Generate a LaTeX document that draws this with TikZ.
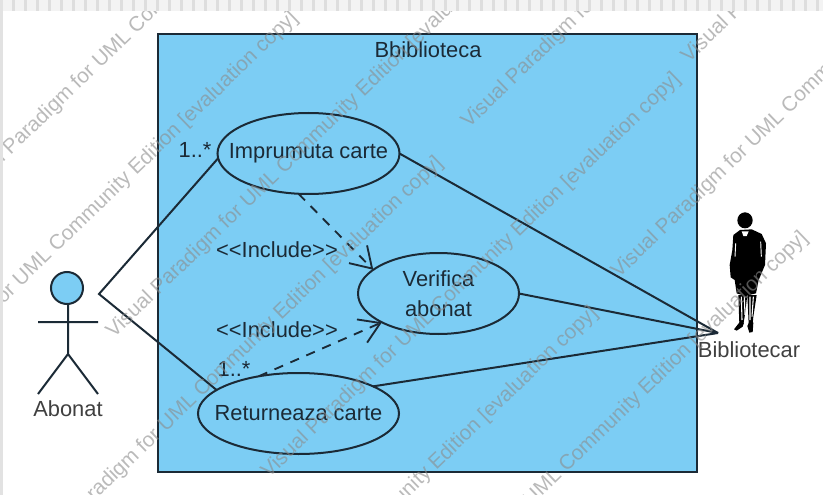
\documentclass[tikz,border=0pt]{standalone}
\usepackage{fontspec}
\setmainfont{Liberation Sans}
\usetikzlibrary{shapes.geometric,arrows.meta}
\definecolor{sysblue}{HTML}{7CCDF4}
\definecolor{inkc}{HTML}{1B2A36}
\definecolor{barc}{HTML}{F3F3F3}
\definecolor{tickc}{HTML}{DEDEDE}
\definecolor{stripc}{HTML}{E2E2E2}
\definecolor{wmc}{HTML}{8C8C8C}
\tikzset{
  usecase/.style={draw=inkc,line width=1.5pt,ellipse,inner sep=0pt,outer sep=0pt},
  ucname/.style={align=center,text=inkc,inner sep=0pt,font=\fontsize{16.4}{22.5}\selectfont},
  assoc/.style={draw=inkc,line width=1.5pt},
  incl/.style={draw=inkc,line width=1.4pt,dash pattern=on 7pt off 6pt,-{Straight Barb[length=15pt,width=19pt,line width=1.4pt]}},
  lbl/.style={text=inkc,inner sep=0pt,font=\fontsize{16.4}{20}\selectfont},
  wm/.style={text=wmc,opacity=.6,inner sep=0pt,rotate=44,font=\fontsize{15.6}{18}\selectfont}
}
\newcommand{\wmstr}{Visual Paradigm for UML Community Edition [evaluation copy]}
\begin{document}
\begin{tikzpicture}[x=.75pt,y=-.75pt]
\useasboundingbox (0,0) rectangle (823,495);
\clip (0,0) rectangle (823,495);
\fill[white] (0,0) rectangle (823,495);
% system frame
\node[draw=inkc,fill=sysblue,line width=1.5pt,minimum width=404.25pt,minimum height=328.5pt,inner sep=0pt,outer sep=0pt] (sys) at (427.5,253) {};
\node[lbl] (systitle) at (428,50) {Bbiblioteca};
% use cases
\node[usecase,minimum width=136.5pt,minimum height=60.75pt] (imp) at (308.5,153.5) {};
\node[usecase,minimum width=120.75pt,minimum height=60.75pt] (ver) at (438.5,293.5) {};
\node[usecase,minimum width=150.75pt,minimum height=60.75pt] (ret) at (298.5,413.5) {};
\node[ucname] (impt) at (imp.center) {Imprumuta carte};
\node[ucname] (vert) at (ver.center) {Verifica\\abonat};
\node[ucname] (rett) at (ret.center) {Returneaza carte};
% actor Abonat
\node[circle,draw=inkc,fill=sysblue,line width=1.5pt,minimum size=24pt,inner sep=0pt,outer sep=0pt] (head) at (67,288) {};
\coordinate (neck) at (68,304);
\coordinate (hip) at (68,354);
\coordinate (armL) at (38,322);
\coordinate (armR) at (98,322);
\coordinate (footL) at (38,394);
\coordinate (footR) at (98,394);
\draw[assoc] (neck) -- (hip) (armL) -- (armR) (footL) -- (hip) -- (footR);
\node[text=black!75,inner sep=0pt,font=\fontsize{16.4}{20}\selectfont] (abonat) at (68,409) {Abonat};
\coordinate (aJoin) at (99,294);
\coordinate (bJoin) at (718,333);
% associations
\draw[assoc] (imp.183) -- (aJoin) -- (ret.164);
\draw[assoc] (imp.east) -- (bJoin);
\draw[assoc] (ver.east) -- (bJoin);
\draw[assoc] (ret.20) -- (bJoin);
% includes
\draw[incl] (imp.256) -- (ver.160);
\draw[incl] (ret.137) -- (ver.207);
\node[lbl] (inc1) at (277,250) {<{}<Include>{}>};
\node[lbl] (inc2) at (277,330) {<{}<Include>{}>};
\node[lbl] (m1) at (195,150) {1..*};
\node[lbl] (m2) at (234,369) {1..*};
% Bibliotecar silhouette
\begin{scope}[shift={(690,200)},x=.25pt,y=-.25pt]
\fill[black] (165,61) ellipse [x radius=23,y radius=24];
\fill[black] (150,90) -- (130,105) -- (127,150) -- (119,195) -- (122,232) -- (134,240) -- (140,280) -- (165,288) -- (198,280) -- (206,240) -- (225,195) -- (228,130) -- (215,102) -- (185,88) -- cycle;
\fill[white] (155,94) -- (176,94) -- (170,108) -- (160,108) -- cycle;
\draw[white,line width=.7pt] (137,130) -- (135,170) (212,125) -- (214,170);
\fill[black] (145,285) -- (172,285) -- (164,350) -- (160,372) -- (148,372) -- cycle;
\fill[black] (172,285) -- (200,285) -- (190,350) -- (188,372) -- (176,372) -- cycle;
\draw[white,line width=.8pt] (154,290) -- (156,360) (163,290) -- (165,345) (180,290) -- (180,360) (190,290) -- (186,350);
\fill[black] (132,388) -- (150,365) -- (162,368) -- (158,380) -- (140,392) -- cycle;
\fill[black] (172,378) -- (180,362) -- (190,368) -- (188,396) -- (178,398) -- cycle;
\end{scope}
\node[text=black!75,inner sep=0pt,font=\fontsize{16.4}{20}\selectfont] (bib) at (749,350) {Bibliotecar};
% watermark
\node[wm,anchor=west] (w1) at (265,475) {\wmstr};
\node[wm,anchor=west] (w2) at (465,125) {\wmstr};
\node[wm,anchor=west] (w3) at (685,60) {\wmstr};
\node[wm,anchor=west] (w4) at (615,275) {\wmstr};
\node[wm,anchor=west] (w5) at (-38,195) {\wmstr};
\node[wm,anchor=east] (w6) at (295,15) {\wmstr};
\node[wm,anchor=west] (w7) at (110,335) {\wmstr};
\node[wm,anchor=east] (w8) at (440,160) {\wmstr};
\node[wm,anchor=east] (w9) at (805,235) {\wmstr};
\node[wm,anchor=east] (w10) at (595,310) {\wmstr};
% window chrome
\fill[barc] (0,0) rectangle (823,11);
\foreach \i in {0,...,68}{\fill[tickc] (12+12*\i,0) rectangle (15+12*\i,11);}
\fill[stripc] (0,0) rectangle (3,495);
\end{tikzpicture}
\end{document}
